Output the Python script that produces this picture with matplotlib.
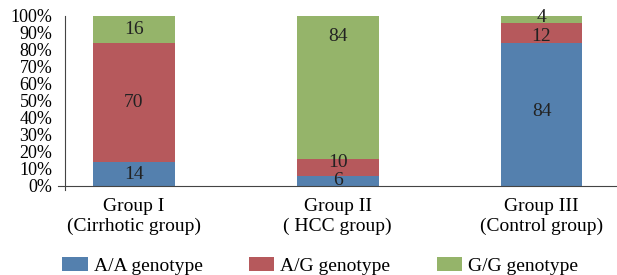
import numpy as np
import matplotlib.pyplot as plt
from matplotlib.ticker import FuncFormatter

plt.rcParams['font.family'] = ['Liberation Serif', 'DejaVu Serif']

groups = ['Group I\n(Cirrhotic group)', 'Group II\n( HCC group)', 'Group III\n(Control group)']
genotypes = ['A/A genotype', 'A/G genotype', 'G/G genotype']
aa = [14, 6, 84]
ag = [70, 10, 12]
gg = [16, 84, 4]
# where the value labels sit (percent height)
label_y = [[7, 49, 92], [3, 13.5, 88], [44, 88, 99]]

colors = ['#5480AE', '#B6595C', '#95B46A']

fig = plt.figure(figsize=(6.17, 2.75), dpi=100)
ax = fig.add_axes([58 / 617, 1 - 190 / 275, 1 - 58 / 617, 174 / 275])

x = np.arange(len(groups))
series = [aa, ag, gg]
bottom = np.zeros(len(groups))
for vals, col, name in zip(series, colors, genotypes):
    ax.bar(x, vals, 0.4, bottom=bottom, color=col, label=name)
    bottom += np.array(vals)

for i in range(len(groups)):
    for j, vals in enumerate(series):
        ax.text(x[i], label_y[i][j], str(vals[i]), ha='center', va='center',
                fontsize=14, color='#222222')

ax.set_xlim(-0.3725, 2.37)
ax.set_ylim(-2.4, 100)
ax.set_yticks(np.arange(0, 101, 10))
ax.yaxis.set_major_formatter(FuncFormatter(lambda v, p: f'{int(v)}%'))
ax.set_xticks(x)
ax.set_xticklabels(groups, fontsize=14, linespacing=1.4)
ax.tick_params(axis='y', length=0, labelsize=13, pad=9)
ax.tick_params(axis='x', length=0, labelsize=14, pad=9)
for s in ['top', 'right']:
    ax.spines[s].set_visible(False)
ax.spines['left'].set_position(('axes', 7 / 559))
ax.spines['bottom'].set_position(('data', 0))
ax.spines['left'].set_color('#444444')
ax.spines['bottom'].set_color('#444444')

fig.legend(loc='center', bbox_to_anchor=(0.519, 1 - 266 / 275), ncol=3, frameon=False,
           fontsize=14, handlelength=1.3, handleheight=0.7, columnspacing=2.4,
           handletextpad=0.3, borderaxespad=0, borderpad=0)

fig.savefig('out.png', dpi=100)
